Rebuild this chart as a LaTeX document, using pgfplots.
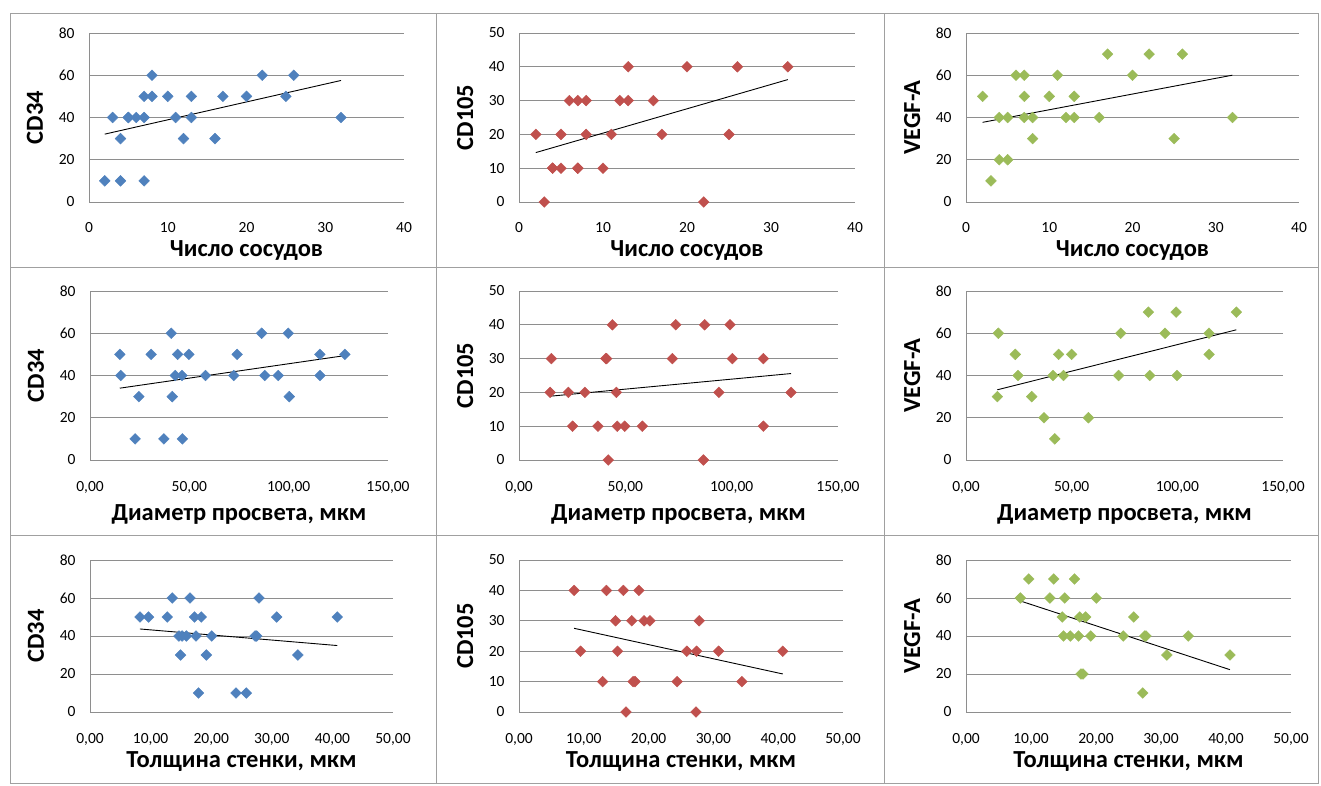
\documentclass[border=0pt]{standalone}
\usepackage{fontspec}
\setmainfont{Carlito}
\usepackage{pgfplots}
\usepackage{pgfplotstable}
\pgfplotsset{compat=1.18}
\definecolor{cblue}{HTML}{4F81BD}
\definecolor{cred}{HTML}{C0504D}
\definecolor{cgreen}{HTML}{9BBB59}
\definecolor{axc}{HTML}{8E8E8E}
\definecolor{brd}{HTML}{A0A0A0}

% ---- row 1: Число сосудов ----
\pgfplotstableread{
x y
2 10
3 40
4 30
4 10
5 40
5 40
6 40
7 50
7 40
7 10
8 60
8 50
10 50
11 40
12 30
13 50
13 40
16 30
17 50
20 50
22 60
25 50
26 60
32 40
}\tA
\pgfplotstableread{
x y
2 20
3 0
4 10
4 10
5 10
5 20
6 30
7 30
7 10
7 10
8 30
8 20
10 10
11 20
12 30
13 30
13 40
16 30
17 20
20 40
22 0
25 20
26 40
32 40
}\tB
\pgfplotstableread{
x y
2 50
3 10
4 40
4 20
5 40
5 20
6 60
7 60
7 50
7 40
8 40
8 30
10 50
11 60
12 40
13 50
13 40
16 40
17 70
20 60
22 70
25 30
26 70
32 40
}\tC
% ---- row 2: Диаметр просвета ----
\pgfplotstableread{
x y
15.0 50
15.5 40
22.7 10
24.6 30
30.8 50
37.2 10
40.9 60
41.4 30
42.9 40
44.1 50
46.3 40
46.5 10
49.8 50
58.1 40
72.4 40
74.1 50
86.4 60
88.0 40
94.8 40
99.8 60
100.3 30
115.7 50
115.8 40
128.3 50
}\tD
\pgfplotstableread{
x y
14.6 20
15.2 30
23.2 20
25.2 10
31.0 20
37.1 10
40.8 30
41.2 30
42.0 0
43.9 40
45.8 20
46.2 10
49.7 10
58.0 10
72.1 30
73.7 40
86.7 0
87.3 40
94.0 20
99.2 40
100.3 30
114.9 30
114.9 10
127.9 20
}\tE
\pgfplotstableread{
x y
14.8 30
15.3 60
23.3 50
24.6 40
31.1 30
36.9 20
41.2 40
42.0 10
43.8 50
46.1 40
50.0 50
57.9 20
72.2 40
73.2 60
86.3 70
86.9 40
94.2 60
99.4 70
99.8 40
115.0 60
115.0 50
127.9 70
}\tF
% ---- row 3: Толщина стенки ----
\pgfplotstableread{
x y
8.24 50
9.67 50
12.75 50
13.57 60
14.67 40
14.95 30
15.2 40
15.9 40
16.5 60
17.25 50
17.5 40
17.9 10
18.35 50
19.2 30
20.1 40
24.1 10
25.8 10
27.25 40
27.5 40
27.9 60
30.8 50
34.3 30
40.8 50
}\tG
\pgfplotstableread{
x y
8.5 40
9.5 20
12.9 10
13.5 40
14.9 30
15.2 20
16.1 40
16.5 0
17.4 30
17.6 10
17.9 10
18.5 40
19.3 30
20.2 30
24.4 10
25.9 20
27.3 0
27.4 20
27.8 30
30.8 20
34.4 10
40.7 20
}\tH
\pgfplotstableread{
x y
8.36 60
9.64 70
12.9 60
13.5 70
14.8 50
15.0 40
15.2 60
16.05 40
16.7 70
17.3 40
17.5 50
17.7 20
18.0 20
18.4 50
19.2 40
20.05 60
24.2 40
25.8 50
27.2 10
27.5 40
27.7 40
30.9 30
34.2 40
40.6 30
}\tI

\pgfplotsset{
  panel/.style={
    scale only axis, anchor=south west, clip=false,
    axis x line*=bottom, axis y line*=left,
    axis line style={draw=axc, line width=0.9pt, -},
    ymajorgrids, grid style={draw=axc, line width=0.9pt},
    major tick length=0pt,
    tick label style={font=\fontsize{15.5}{18}\selectfont, text=black},
    /pgf/number format/assume math mode=true,
    xticklabel style={anchor=base, yshift=-31pt},
    yticklabel style={anchor=east, xshift=-11pt},
    label style={font=\bfseries\fontsize{24.5}{28}\selectfont, text=black},
    xlabel style={at={([yshift=-55pt]axis description cs:0.5,0)}, anchor=base},
    ylabel style={at={([xshift=-46pt]axis description cs:0,0.5)}, anchor=base},
  },
  dec/.style={xticklabel style={/pgf/number format/.cd, fixed, fixed zerofill, precision=2, use comma}},
  dot/.style={only marks, mark=square*, mark size=3.8pt, mark options={rotate=45, draw=#1, fill=#1}},
  trend/.style={black, line width=0.9pt, no markers},
}

\begin{document}
\begin{tikzpicture}
\path[use as bounding box] (0pt,0pt) rectangle (1321pt,785pt);
\draw[brd, line width=0.9pt] (10pt,2pt) rectangle (1318pt,772pt);
\draw[brd, line width=0.9pt] (436pt,2pt)--(436pt,772pt) (884pt,2pt)--(884pt,772pt) (10pt,518pt)--(1318pt,518pt) (10pt,250pt)--(1318pt,250pt);

% row 1
\begin{axis}[panel, at={(89pt,583pt)}, width=315pt, height=169pt,
  xmin=0, xmax=40, ymin=0, ymax=80, xtick={0,10,...,40}, ytick={0,20,...,80},
  xlabel={Число сосудов}, ylabel={CD34}]
\addplot[dot=cblue] table {\tA};
\addplot[trend] table[y={create col/linear regression={y=y}}] {\tA};
\end{axis}
\begin{axis}[panel, at={(519pt,583pt)}, width=336pt, height=169pt,
  xmin=0, xmax=40, ymin=0, ymax=50, xtick={0,10,...,40}, ytick={0,10,...,50},
  xlabel={Число сосудов}, ylabel={CD105}]
\addplot[dot=cred] table {\tB};
\addplot[trend] table[y={create col/linear regression={y=y}}] {\tB};
\end{axis}
\begin{axis}[panel, at={(966pt,583pt)}, width=333pt, height=169pt,
  xmin=0, xmax=40, ymin=0, ymax=80, xtick={0,10,...,40}, ytick={0,20,...,80},
  xlabel={Число сосудов}, ylabel={VEGF-A}]
\addplot[dot=cgreen] table {\tC};
\addplot[trend] table[y={create col/linear regression={y=y}}] {\tC};
\end{axis}

% row 2
\begin{axis}[panel, dec, at={(90pt,325pt)}, width=298pt, height=169pt,
  xmin=0, xmax=150, ymin=0, ymax=80, xtick={0,50,100,150}, ytick={0,20,...,80},
  xlabel={Диаметр просвета, мкм}, ylabel={CD34},
  xlabel style={at={([yshift=-60pt]axis description cs:0.5,0)}}]
\addplot[dot=cblue] table {\tD};
\addplot[trend] table[y={create col/linear regression={y=y}}] {\tD};
\end{axis}
\begin{axis}[panel, dec, at={(519pt,325pt)}, width=319pt, height=169pt,
  xmin=0, xmax=150, ymin=0, ymax=50, xtick={0,50,100,150}, ytick={0,10,...,50},
  xlabel={Диаметр просвета, мкм}, ylabel={CD105},
  xlabel style={at={([yshift=-60pt]axis description cs:0.5,0)}}]
\addplot[dot=cred] table {\tE};
\addplot[trend] table[y={create col/linear regression={y=y}}] {\tE};
\end{axis}
\begin{axis}[panel, dec, at={(966pt,325pt)}, width=317pt, height=169pt,
  xmin=0, xmax=150, ymin=0, ymax=80, xtick={0,50,100,150}, ytick={0,20,...,80},
  xlabel={Диаметр просвета, мкм}, ylabel={VEGF-A},
  xlabel style={at={([yshift=-60pt]axis description cs:0.5,0)}}]
\addplot[dot=cgreen] table {\tF};
\addplot[trend] table[y={create col/linear regression={y=y}}] {\tF};
\end{axis}

% row 3
\begin{axis}[panel, dec, at={(90pt,73pt)}, width=303pt, height=152pt,
  xmin=0, xmax=50, ymin=0, ymax=80, xtick={0,10,...,50}, ytick={0,20,...,80},
  xlabel={Толщина стенки, мкм}, ylabel={CD34}]
\addplot[dot=cblue] table {\tG};
\addplot[trend] table[y={create col/linear regression={y=y}}] {\tG};
\end{axis}
\begin{axis}[panel, dec, at={(519pt,73pt)}, width=324pt, height=152pt,
  xmin=0, xmax=50, ymin=0, ymax=50, xtick={0,10,...,50}, ytick={0,10,...,50},
  xlabel={Толщина стенки, мкм}, ylabel={CD105}]
\addplot[dot=cred] table {\tH};
\addplot[trend] table[y={create col/linear regression={y=y}}] {\tH};
\end{axis}
\begin{axis}[panel, dec, at={(966pt,73pt)}, width=325pt, height=152pt,
  xmin=0, xmax=50, ymin=0, ymax=80, xtick={0,10,...,50}, ytick={0,20,...,80},
  xlabel={Толщина стенки, мкм}, ylabel={VEGF-A}]
\addplot[dot=cgreen] table {\tI};
\addplot[trend] table[y={create col/linear regression={y=y}}] {\tI};
\end{axis}
\end{tikzpicture}
\end{document}
